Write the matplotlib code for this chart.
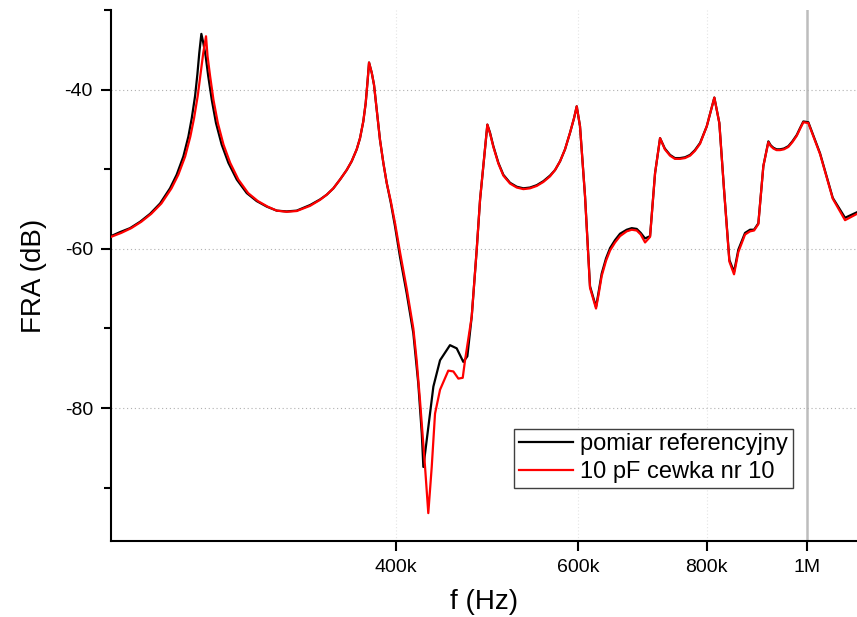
import matplotlib
matplotlib.use("Agg")
import matplotlib.pyplot as plt
from matplotlib.ticker import FixedLocator, NullLocator

plt.rcParams['font.family'] = ['Liberation Sans', 'DejaVu Sans']
plt.rcParams['axes.unicode_minus'] = False

# frequency in kHz, FRA in dB  -- reference measurement (black)
ref_f = [212.0, 216.3, 221.2, 226.2, 231.3, 236.5, 241.8, 245.4, 249.1, 251.9,
         253.8, 255.7, 257.0, 258.1, 259.3, 260.4, 261.8, 263.3, 265.4, 267.9,
         271.3, 275.4, 280.6, 286.9, 293.3, 300.0, 306.7, 313.6, 320.7, 330.4,
         337.8, 342.9, 348.0, 353.2, 358.5, 362.5, 366.6, 369.3, 372.0, 374.0,
         375.7, 376.8, 379.1, 381.0, 383.3, 386.1, 389.0, 391.9, 395.5, 399.3,
         403.7, 409.8, 415.9, 420.5, 423.8, 425.3, 428.5, 434.9, 441.4, 451.3,
         458.1, 464.9, 469.1, 473.7, 479.0, 482.6, 490.5, 493.4, 497.1, 502.7,
         508.3, 515.9, 523.7, 531.5, 539.4, 547.6, 555.7, 564.0, 570.4, 576.8,
         583.2, 589.8, 595.0, 598.6, 603.0, 609.8, 616.6, 624.9, 628.2, 632.9,
         639.0, 644.8, 652.0, 659.3, 669.2, 676.7, 684.3, 690.4, 697.1, 704.9,
         712.8, 720.8, 728.5, 737.0, 745.0, 753.6, 762.0, 770.6, 779.0, 788.0,
         799.9, 813.5, 822.6, 831.3, 841.2, 850.0, 858.2, 871.1, 880.9, 888.8,
         897.3, 907.4, 917.6, 922.5, 927.9, 934.5, 941.8, 950.0, 959.4, 968.0,
         977.5, 985.0, 992.0, 1003.1, 1029.6, 1059.2, 1088.6, 1118.2]
ref_db = [-58.4, -57.9, -57.4, -56.6, -55.6, -54.3, -52.4, -50.7, -48.4, -45.9,
          -43.6, -40.8, -38.1, -35.4, -33.0, -34.1, -35.8, -38.3, -41.3, -44.2,
          -46.9, -49.2, -51.3, -53.0, -54.0, -54.7, -55.2, -55.3, -55.2, -54.5,
          -53.8, -53.2, -52.4, -51.3, -50.1, -49.0, -47.5, -46.1, -44.0, -41.7,
          -38.7, -36.6, -37.9, -39.4, -42.5, -46.3, -49.2, -51.7, -54.2, -57.2,
          -61.0, -65.6, -70.6, -76.9, -83.2, -87.4, -84.0, -77.3, -74.0, -72.1,
          -72.5, -74.2, -73.5, -68.5, -60.1, -53.8, -44.4, -45.4, -47.1, -49.2,
          -50.7, -51.7, -52.2, -52.4, -52.3, -52.0, -51.5, -50.8, -50.1, -49.0,
          -47.5, -45.4, -43.6, -42.1, -44.6, -53.4, -64.7, -67.3, -65.6, -63.1,
          -61.2, -59.9, -58.9, -58.1, -57.6, -57.4, -57.5, -58.0, -58.7, -58.4,
          -50.5, -46.1, -47.4, -48.2, -48.6, -48.6, -48.5, -48.2, -47.6, -46.7,
          -44.6, -41.0, -44.2, -52.6, -61.4, -62.9, -60.1, -58.0, -57.6, -57.6,
          -56.8, -49.6, -46.5, -47.0, -47.3, -47.5, -47.5, -47.4, -47.1, -46.5,
          -45.7, -44.8, -44.0, -44.1, -48.0, -53.6, -56.1, -55.4]

# 10 pF capacitor on coil no. 10 (red)
cap_f = [212.0, 216.9, 221.8, 226.8, 231.9, 237.2, 242.6, 246.3, 250.1, 253.0,
         255.1, 257.2, 258.8, 260.4, 262.0, 262.9, 264.4, 266.4, 269.0, 272.4,
         276.5, 281.6, 287.8, 294.1, 300.6, 306.7, 313.6, 320.7, 330.4,
         337.8, 342.9, 348.0, 353.2, 358.5, 362.5, 366.6, 369.3, 372.0, 374.0,
         375.7, 376.8, 379.1, 381.0, 383.3, 386.1, 389.0, 391.9, 395.5, 399.3,
         403.7, 409.8, 415.9, 419.0, 422.1, 426.9, 430.0, 433.3, 436.5, 441.4,
         449.6, 454.7, 459.8, 464.3, 466.7, 473.7, 479.0, 482.6, 490.5, 493.4,
         497.1, 502.7, 508.3, 515.9, 523.7, 531.5, 539.4, 547.6, 555.7, 564.0,
         570.4, 576.8, 583.2, 589.8, 595.0, 598.6, 603.0, 609.8, 616.6, 624.9,
         628.2, 632.9, 639.0, 644.8, 652.0, 659.3, 669.2, 676.7, 684.3, 690.4,
         697.1, 704.9, 712.8, 720.8, 728.5, 737.0, 745.0, 753.6, 762.0, 770.6,
         779.0, 788.0, 799.9, 813.5, 822.6, 831.3, 841.2, 850.0, 858.2, 871.1,
         880.9, 888.8, 897.3, 907.4, 917.6, 922.5, 927.9, 934.5, 941.8, 950.0,
         959.4, 968.0, 977.5, 985.0, 992.0, 1003.1, 1029.6, 1059.2, 1088.6, 1118.2]
cap_db = [-58.5, -58.0, -57.4, -56.6, -55.6, -54.3, -52.4, -50.7, -48.4, -45.9,
          -43.6, -40.8, -38.1, -35.4, -33.3, -35.8, -38.3, -41.3, -44.2, -46.9,
          -49.2, -51.3, -53.0, -54.0, -54.7, -55.2, -55.35, -55.25, -54.6,
          -53.85, -53.2, -52.4, -51.3, -50.1, -49.0, -47.5, -46.1, -44.0, -41.7,
          -38.7, -36.6, -37.9, -39.4, -42.5, -46.3, -49.2, -51.7, -54.0, -56.8,
          -60.4, -65.0, -70.0, -74.0, -79.0, -87.4, -93.2, -87.4, -80.7, -77.7,
          -75.3, -75.4, -76.3, -76.2, -74.0, -68.5, -60.1, -53.8, -44.4, -45.5,
          -47.2, -49.3, -50.8, -51.8, -52.3, -52.5, -52.4, -52.1, -51.6, -50.9,
          -50.1, -49.0, -47.5, -45.4, -43.6, -42.1, -44.6, -53.4, -64.9, -67.5,
          -65.9, -63.4, -61.5, -60.2, -59.2, -58.4, -57.8, -57.6, -57.7, -58.2,
          -59.2, -58.5, -50.5, -46.1, -47.5, -48.3, -48.7, -48.7, -48.6, -48.3,
          -47.7, -46.8, -44.6, -41.0, -44.2, -52.6, -61.6, -63.2, -60.4, -58.2,
          -57.8, -57.7, -56.9, -49.6, -46.6, -47.1, -47.4, -47.6, -47.6, -47.5,
          -47.2, -46.6, -45.8, -44.9, -44.1, -44.2, -48.1, -53.7, -56.4, -55.6]

labels = ['pomiar referencyjny', '10 pF cewka nr 10']
xticks_khz = [400, 600, 800, 1000]
xtick_labels = ['400k', '600k', '800k', '1M']
yticks_major = [-40, -60, -80]
yticks_minor = [-30, -50, -70, -90]

fig = plt.figure(figsize=(8.57, 6.17), dpi=100)
ax = fig.add_axes([111/857, 1 - 541/617, 1 - 111/857, (541 - 10)/617])

ax.plot([f * 1e3 for f in ref_f], ref_db, color='black', lw=1.6, label=labels[0], zorder=3)
ax.plot([f * 1e3 for f in cap_f], cap_db, color='red', lw=1.6, label=labels[1], zorder=4)

ax.set_xscale('log')
ax.set_xlim(212e3, 1118e3)
ax.set_ylim(-96.7, -30)

ax.xaxis.set_major_locator(FixedLocator([v * 1e3 for v in xticks_khz]))
ax.xaxis.set_minor_locator(NullLocator())
ax.set_xticklabels(xtick_labels)
ax.yaxis.set_major_locator(FixedLocator(yticks_major))
ax.yaxis.set_minor_locator(FixedLocator(yticks_minor))

for v in [400e3, 600e3, 800e3]:
    ax.axvline(v, color='#e4e4e4', lw=0.8, ls=(0, (1, 2)), zorder=1)
ax.axvline(1e6, color='#bdbdbd', lw=1.8, zorder=1)
for v in yticks_major:
    ax.axhline(v, color='#b0b0b0', lw=0.8, ls=(0, (1, 2.5)), zorder=1)

for s in ['top', 'right']:
    ax.spines[s].set_visible(False)
for s in ['left', 'bottom']:
    ax.spines[s].set_linewidth(1.5)

ax.tick_params(axis='both', which='major', direction='out', length=7, width=1.5,
               labelsize=14, pad=6)
ax.tick_params(axis='y', which='minor', direction='out', length=5, width=1.5)

ax.set_xlabel('f (Hz)', fontsize=20, labelpad=9)
ax.set_ylabel('FRA (dB)', fontsize=20, labelpad=13)

leg = ax.legend(loc='lower right', bbox_to_anchor=(0.914, 0.0998), borderaxespad=0,
                fontsize=17, frameon=True, fancybox=False, framealpha=1,
                edgecolor='#404040', handlelength=2.3, handletextpad=0.3,
                labelspacing=0.25, borderpad=0.2)
leg.get_frame().set_linewidth(1.0)

fig.savefig('out.png', dpi=100)
